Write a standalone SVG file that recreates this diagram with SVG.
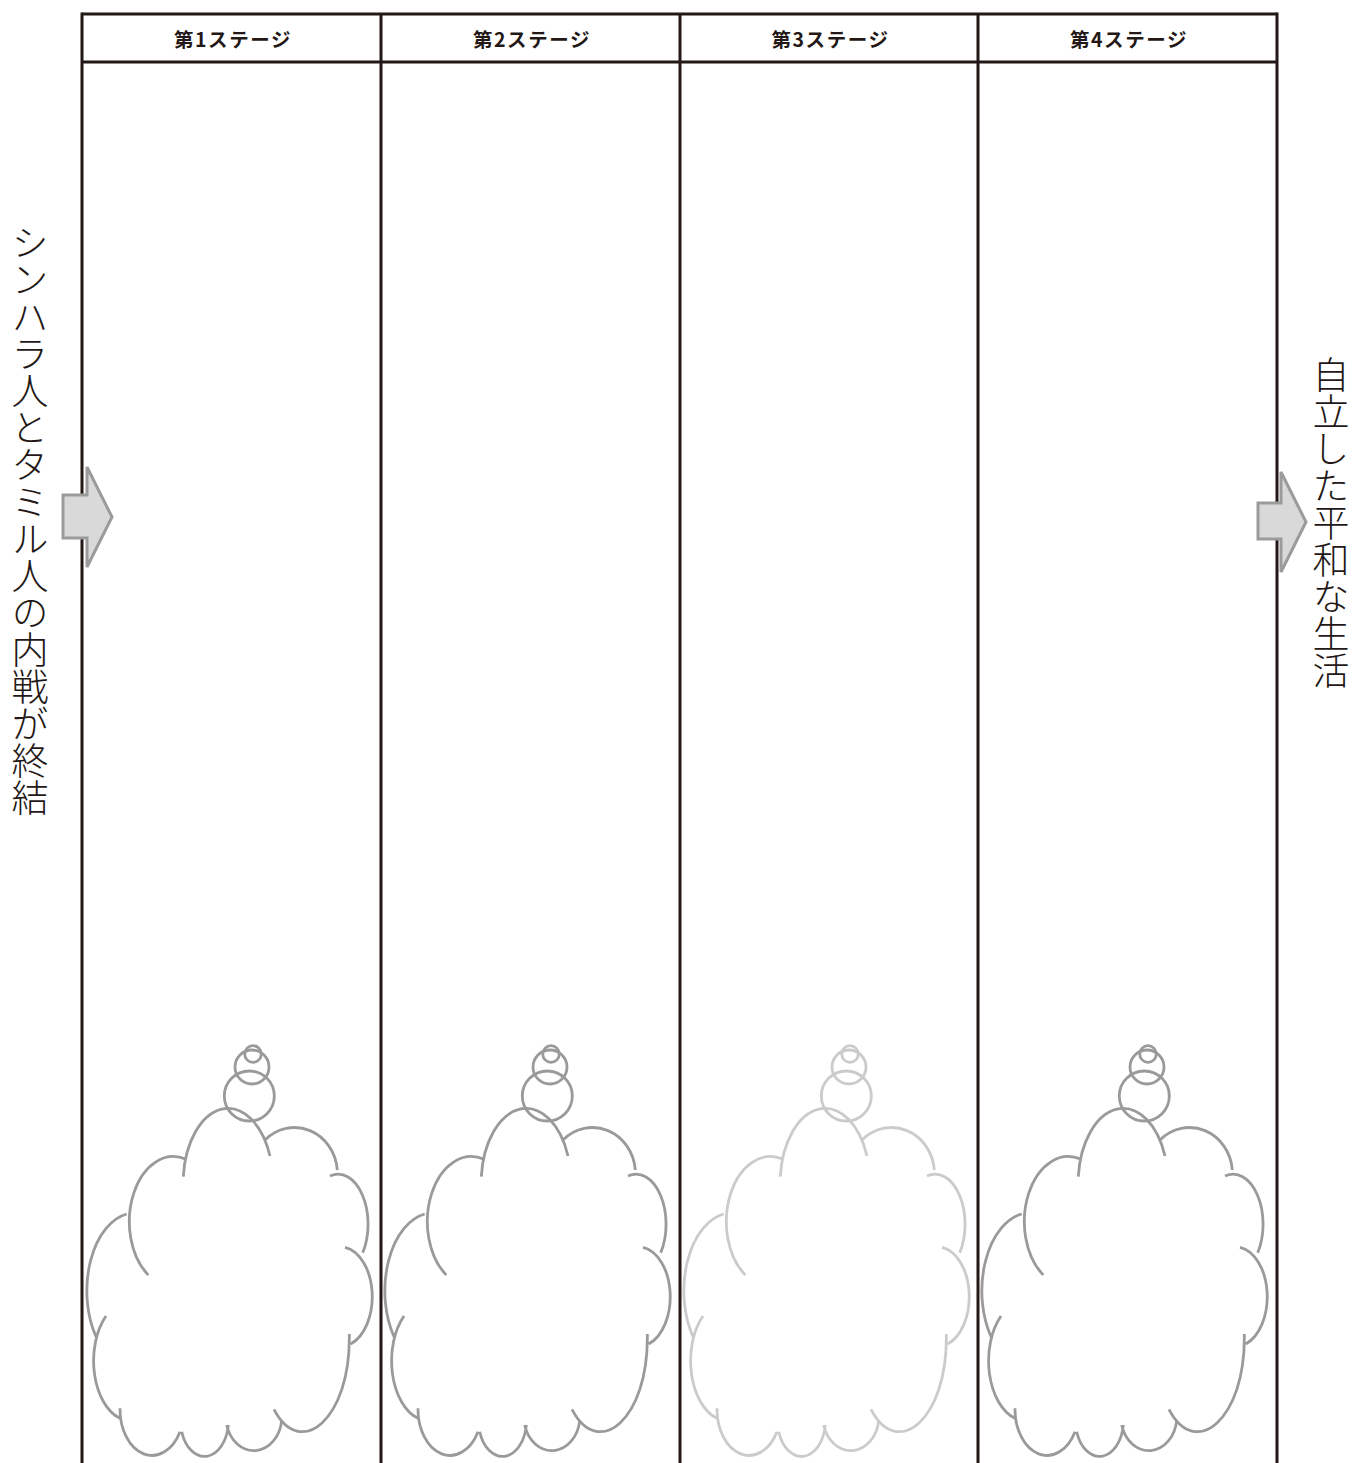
<svg xmlns="http://www.w3.org/2000/svg" width="1355" height="1463" viewBox="0 0 1355 1463">
<style>
.frame{fill:none;stroke:#231815;stroke-width:3}
.hdr{font-family:"Noto Sans CJK JP","Noto Sans",sans-serif;font-size:19.5px;font-weight:700;letter-spacing:1.6px;fill:#231815;text-anchor:middle;dominant-baseline:central}
.vt{font-family:"Noto Sans CJK JP",sans-serif;font-size:37px;font-weight:300;fill:#231815;writing-mode:vertical-rl;text-orientation:upright}
.cloud{fill:none;stroke:#9a9a9a;stroke-width:2.8;stroke-linecap:butt}
.cloud.light{stroke:#cbcbcb}
.arrow{fill:#d9d9d9;stroke:#9b9b9b;stroke-width:3;stroke-linejoin:miter}
</style>
<defs>
<g id="cloudShape">
<circle cx="253" cy="1054" r="8.3"/>
<circle cx="252" cy="1067" r="17"/>
<circle cx="249.3" cy="1096" r="25"/>
<path d="M148.3,1275 A44,65 0 0 1 186,1159.3 M183.3,1176.7 A45,75 0 0 1 270,1156 M265,1140 A43,46 0 0 1 337.3,1170 M330,1176 A30,50 0 0 1 362.7,1252.7 M345,1247.3 A32,50 0 0 1 350.7,1344 M349.3,1334 C351,1420 300,1460 274,1409.3 M281.7,1420 A28,34 0 0 1 226.7,1425 M228.3,1425 A24,36 0 0 1 181.7,1431.7 M180,1431.7 A32,46 0 0 1 120,1408.3 M106,1316 A37,60 0 0 0 120,1418.3 M96,1336.7 A48,78 0 0 1 126.7,1214"/>
</g>
</defs>
<rect width="1355" height="1463" fill="#ffffff"/>
<g id="frame" class="frame">
<line x1="82" y1="14" x2="1277" y2="14"/>
<line x1="82" y1="62" x2="1277" y2="62"/>
<line x1="82" y1="12.5" x2="82" y2="1463"/>
<line x1="381" y1="14" x2="381" y2="1463"/>
<line x1="680" y1="14" x2="680" y2="1463"/>
<line x1="978" y1="14" x2="978" y2="1463"/>
<line x1="1277" y1="12.5" x2="1277" y2="1463"/>
</g>
<g id="stage1">
<text class="hdr" x="233" y="38">第1ステージ</text>
<use href="#cloudShape" class="cloud"/>
</g>
<g id="stage2">
<text class="hdr" x="532" y="38">第2ステージ</text>
<use href="#cloudShape" class="cloud" transform="translate(298,0)"/>
</g>
<g id="stage3">
<text class="hdr" x="830.5" y="38">第3ステージ</text>
<use href="#cloudShape" class="cloud light" transform="translate(597,0)"/>
</g>
<g id="stage4">
<text class="hdr" x="1129" y="38">第4ステージ</text>
<use href="#cloudShape" class="cloud" transform="translate(895,0)"/>
</g>
<g id="start">
<text class="vt" x="30" y="224">シンハラ人とタミル人の内戦が終結</text>
</g>
<g id="goal">
<text class="vt" x="1331" y="356">自立した平和な生活</text>
</g>
<g id="connectors">
<polygon class="arrow" points="63,495 87,495 87,467 112,517 87,567 87,538 63,538"/>
<polygon class="arrow" points="1258,503 1281,503 1281,472 1306,522 1281,572 1281,539 1258,539"/>
</g>
</svg>
